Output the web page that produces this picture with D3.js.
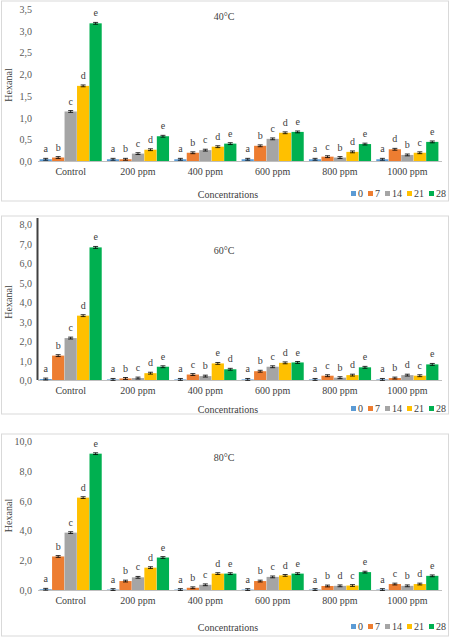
<!DOCTYPE html>
<html><head><meta charset="utf-8">
<script src="https://cdn.jsdelivr.net/npm/d3@7"></script>
<style>body{margin:0;background:#fff}svg{font-family:"Liberation Serif","Times New Roman",serif}</style>
</head><body><svg id="chart"></svg>
<script>
// categories and storage days
var categories = ['Control', '200 ppm', '400 ppm', '600 ppm', '800 ppm', '1000 ppm'];
var days = ['0', '7', '14', '21', '28'];
var colors = ['#5b9bd5', '#ed7d31', '#a5a5a5', '#ffc000', '#00b050'];

// hexanal values per category (rows) and day (cols)
var values40 = [
  [0.04, 0.08, 1.14, 1.73, 3.17],
  [0.04, 0.04, 0.17, 0.26, 0.57],
  [0.04, 0.19, 0.25, 0.33, 0.40],
  [0.04, 0.35, 0.51, 0.65, 0.67],
  [0.04, 0.10, 0.08, 0.21, 0.39],
  [0.04, 0.27, 0.14, 0.19, 0.44]
];
var letters40 = ['abcde', 'abcde', 'abcde', 'abcde', 'acbde', 'adbce'];
var values60 = [
  [0.05, 1.25, 2.15, 3.30, 6.80],
  [0.03, 0.08, 0.10, 0.35, 0.68],
  [0.03, 0.28, 0.20, 0.85, 0.55],
  [0.03, 0.45, 0.68, 0.88, 0.90],
  [0.03, 0.22, 0.12, 0.25, 0.65],
  [0.03, 0.10, 0.25, 0.22, 0.80]
];
var letters60 = ['abcde', 'abcde', 'acbed', 'abcde', 'acbde', 'abdce'];
var values80 = [
  [0.05, 2.25, 3.85, 6.20, 9.15],
  [0.03, 0.60, 0.85, 1.50, 2.18],
  [0.03, 0.15, 0.35, 1.10, 1.10],
  [0.03, 0.60, 0.88, 0.98, 1.10],
  [0.03, 0.27, 0.28, 0.30, 1.20],
  [0.03, 0.40, 0.28, 0.40, 0.95]
];
var letters80 = ['abcde', 'abcde', 'abcde', 'abcde', 'abdce', 'acbde'];

var svg = d3.select('#chart').attr('width', 450).attr('height', 638);

function drawPanel(o) {
  var g = svg.append('g');
  g.append('rect').attr('x', 1.5).attr('y', o.boxTop).attr('width', 447).attr('height', o.boxH)
    .attr('fill', 'none').attr('stroke', '#d9d9d9');

  var x = d3.scaleBand().domain(categories).range([38, 440]).paddingInner(0.07).paddingOuter(0.02);
  var xi = d3.scaleBand().domain(days).range([0, x.bandwidth()]).padding(0.02);
  var y = d3.scaleLinear().domain([0, o.max]).range([o.y0, o.y1]);

  var ticks = d3.range(0, o.max + 1e-9, o.step);
  g.selectAll('.tk').data(ticks).enter().append('text')
    .attr('x', 32).attr('y', function (d) { return y(d) + 4; })
    .attr('text-anchor', 'end').attr('font-size', 10).attr('fill', '#595959')
    .text(function (d) { return d.toFixed(1).replace('.', ','); });

  if (o.darkAxis) {
    g.append('line').attr('x1', 37.5).attr('x2', 37.5).attr('y1', y(o.max) - 6).attr('y2', o.y0)
      .attr('stroke', '#404040').attr('stroke-width', 2);
  }
  g.append('line').attr('x1', 38).attr('x2', 442).attr('y1', o.y0 + 0.5).attr('y2', o.y0 + 0.5)
    .attr('stroke', '#bfbfbf');

  categories.forEach(function (c, ci) {
    var grp = g.append('g').attr('transform', 'translate(' + x(c) + ',0)');
    o.values[ci].forEach(function (v, di) {
      var bx = xi(days[di]), bw = xi.bandwidth();
      grp.append('rect').attr('x', bx).attr('y', y(v)).attr('width', bw)
        .attr('height', o.y0 - y(v)).attr('fill', colors[di]);
      var e = o.max * 0.006;
      grp.append('path').attr('stroke', '#000').attr('stroke-width', 0.8).attr('fill', 'none')
        .attr('d', 'M' + (bx + bw / 2 - 2.5) + ',' + y(v + e) + 'h5M' + (bx + bw / 2) + ',' + y(v + e) + 'V' + y(v - e)
          + 'M' + (bx + bw / 2 - 2.5) + ',' + y(v - e) + 'h5');
      grp.append('text').attr('x', bx + bw / 2).attr('y', y(v + e) - 6)
        .attr('text-anchor', 'middle').attr('font-size', 10).attr('fill', '#404040')
        .text(o.letters[ci][di]);
    });
    g.append('text').attr('x', x(c) + x.bandwidth() / 2).attr('y', o.y0 + 14)
      .attr('text-anchor', 'middle').attr('font-size', 10).attr('fill', '#404040').text(c);
  });

  g.append('text').attr('x', 224).attr('y', o.titleY).attr('text-anchor', 'middle')
    .attr('font-size', 10).attr('fill', '#404040').text(o.title);
  g.append('text').attr('transform', 'translate(12,' + (o.y0 + y(o.max)) / 2 + ') rotate(-90)')
    .attr('text-anchor', 'middle').attr('font-size', 10).attr('fill', '#404040').text('Hexanal');
  g.append('text').attr('x', 228).attr('y', o.legY + 4).attr('text-anchor', 'middle')
    .attr('font-size', 10).attr('fill', '#404040').text('Concentrations');

  var lx = [351, 368, 385, 407, 429];
  days.forEach(function (d, i) {
    g.append('rect').attr('x', lx[i]).attr('y', o.legY - 3).attr('width', 5).attr('height', 5).attr('fill', colors[i]);
    g.append('text').attr('x', lx[i] + 7).attr('y', o.legY + 3).attr('font-size', 10).attr('fill', '#404040').text(d);
  });
}

drawPanel({ values: values40, letters: letters40, max: 3.5, step: 0.5, y0: 161, y1: 9,
  boxTop: 1, boxH: 200, titleY: 20, legY: 194, title: '40°C' });
drawPanel({ values: values60, letters: letters60, max: 8, step: 1, y0: 380, y1: 224,
  boxTop: 216, boxH: 198, titleY: 254, legY: 409, title: '60°C', darkAxis: true });
drawPanel({ values: values80, letters: letters80, max: 10, step: 2, y0: 590, y1: 441,
  boxTop: 434, boxH: 202, titleY: 461, legY: 627, title: '80°C' });
</script></body></html>
